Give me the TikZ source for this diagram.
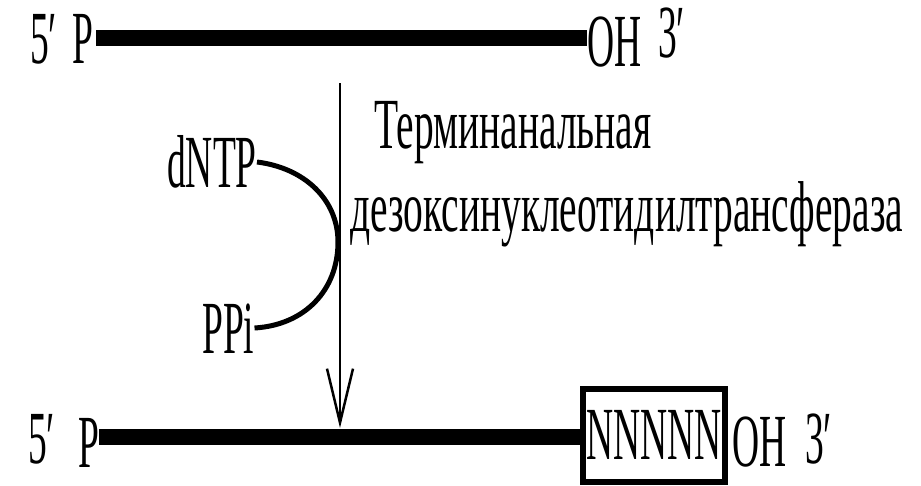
\documentclass[tikz,border=0pt]{standalone}
\usepackage{fontspec}
\setmainfont{Liberation Serif}
\newfontfamily\cond[FakeStretch=0.5]{Liberation Serif}
\newfontfamily\condr[FakeStretch=0.548]{Liberation Serif}
\usetikzlibrary{arrows.meta}
\begin{document}
\begin{tikzpicture}[x=1pt,y=-1pt,
  lbl/.style={inner sep=0pt, anchor=base west, text height=50pt, text depth=0pt,
              font=\cond\fontsize{75}{80}\selectfont},
  rus/.style={inner sep=0pt, anchor=base west,
              font=\condr\fontsize{72}{76}\selectfont},
  dna/.style={line width=16pt},
  boxn/.style={draw, line width=6pt, inner sep=0pt, minimum width=142pt, minimum height=93pt,
              font=\cond\fontsize{75}{80}\selectfont},
  curve/.style={line width=5pt},
  enz/.style={line width=2.5pt, -{Straight Barb[length=54pt,width=26pt]}},
]
\useasboundingbox (0,0) rectangle (921,485);
% top strand
\node[lbl] (t5) at (30,63) {5′};
\node[lbl] (tp) at (72,63) {P};
\node[lbl] (toh) at (587,66) {OH};
\node[lbl] (t3) at (658,57) {3′};
\draw[dna] (tp.east) ++(3,0) -- (tp.east -| toh.west);
% bottom strand
\node[lbl] (b5) at (28,463) {5′};
\node[lbl] (bp) at (78,467) {P};
\node[boxn] (nbox) at (654,435) {NNNNN};
\node[lbl] (boh) at (732,466) {OH};
\node[lbl] (b3) at (805,463) {3′};
\draw[dna] (nbox.west |- 0,437) -- (bp.east |- 0,437);
% enzyme arrow
\coordinate (atop) at (340,83);
\coordinate (atip) at (340,428);
\draw[enz] (atop) -- (atip);
% dNTP / PPi
\node[lbl] (dntp) at (167,187) {dNTP};
\node[lbl] (ppi) at (202,353) {PPi};
\coordinate (touch) at (338,242);
\draw[curve] (dntp.east) .. controls (305,168) and (338,200) .. (touch)
  .. controls (338,290) and (305,325) .. (ppi.east);
% enzyme name
\node[rus] (e1) at (374,148) {Терминанальная};
\node[rus] (e2) at (350,231) {дезоксинуклеотидилтрансфераза};
\end{tikzpicture}
\end{document}
